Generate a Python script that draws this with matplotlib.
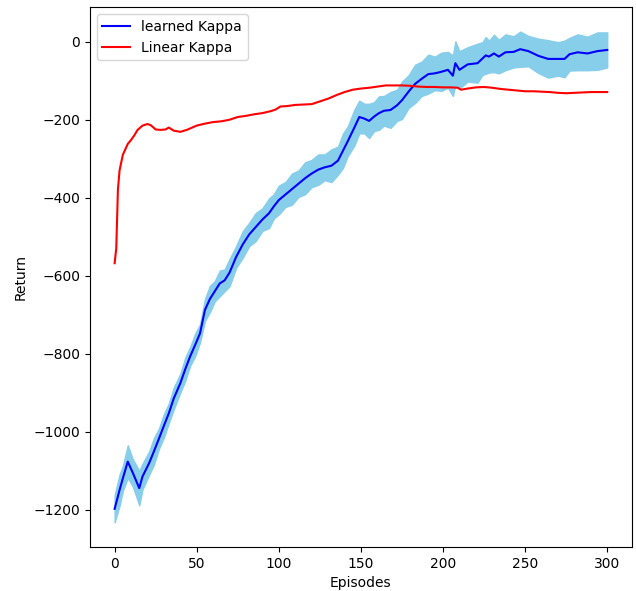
import matplotlib

matplotlib.use('Agg')
import matplotlib.pyplot as plt
import numpy as np

# Linear Kappa
lin_ep = [0, 1, 2, 3, 5, 8, 10, 12, 14, 17, 20, 22, 25, 28, 31, 33, 36, 40, 44, 50,
          55, 60, 65, 70, 75, 80, 85, 90, 95, 98, 101, 105, 110, 115, 120, 125, 130,
          135, 140, 145, 150, 155, 160, 165, 170, 175, 180, 185, 190, 195, 200, 205,
          209, 211, 215, 220, 225, 230, 235, 240, 245, 250, 255, 260, 265, 270, 275,
          280, 285, 290, 295, 300]
lin_ret = [-568, -530, -380, -330, -290, -262, -252, -240, -226, -215, -211, -214, -225,
           -226, -225, -220, -228, -231, -226, -215, -210, -206, -204, -200, -193, -190,
           -186, -183, -178, -174, -166, -165, -162, -161, -160, -153, -146, -137, -129,
           -123, -120, -118, -115, -112, -112, -112, -113, -115, -116, -116, -117, -117,
           -118, -123, -120, -117, -116, -118, -121, -123, -125, -127, -127, -128, -129,
           -131, -132, -131, -130, -129, -129, -129]

# learned Kappa: media e deviazione
lrn_ep = [0, 3, 5, 8, 11, 15, 17, 21, 24, 27, 30, 33, 36, 40, 43, 46, 49, 52, 55, 58,
          61, 64, 67, 70, 74, 78, 82, 86, 90, 94, 97, 100, 104, 108, 112, 116, 120, 124,
          128, 132, 136, 139, 142, 146, 149, 152, 155, 158, 161, 164, 168, 172, 175, 179,
          183, 187, 191, 195, 199, 203, 206, 207.5, 210, 215, 221, 224, 226, 228, 231,
          234, 238, 243, 247, 252, 258, 264, 270, 274, 277, 282, 288, 294, 300]
lrn_ret = [-1198, -1150, -1120, -1077, -1105, -1145, -1115, -1081, -1050, -1018, -985,
           -953, -915, -876, -840, -807, -778, -748, -688, -660, -640, -620, -612, -592,
           -552, -520, -494, -475, -456, -440, -422, -406, -392, -378, -364, -350, -338,
           -328, -322, -318, -305, -280, -255, -220, -193, -197, -203, -192, -183, -177,
           -175, -163, -150, -128, -108, -95, -83, -81, -77, -72, -87, -55, -72, -58,
           -55, -43, -35, -38, -30, -38, -27, -26, -19, -24, -36, -44, -44, -44, -32,
           -27, -30, -24, -21]
lrn_std = [35, 40, 32, 42, 35, 44, 33, 30, 34, 26, 30, 25, 28, 24, 30, 24, 29, 23, 28,
           34, 26, 33, 28, 35, 28, 34, 30, 36, 29, 38, 31, 37, 32, 40, 34, 41, 35, 39,
           33, 42, 36, 44, 38, 46, 42, 38, 44, 37, 43, 38, 46, 40, 48, 42, 49, 44, 50,
           43, 49, 46, 52, 56, 48, 44, 50, 42, 47, 41, 48, 43, 46, 40, 45, 39, 44, 48,
           43, 47, 42, 46, 43, 48, 45]

lrn_ret = np.array(lrn_ret)
lrn_std = np.array(lrn_std)

fig = plt.figure(figsize=(6.36, 5.91), dpi=100)
ax = fig.add_axes([0.1415, 0.0745, 0.852, 0.9135])

ax.fill_between(lrn_ep, lrn_ret - lrn_std, lrn_ret + lrn_std, color='skyblue')
ax.plot(lrn_ep, lrn_ret, color='b', label='learned Kappa')
ax.plot(lin_ep, lin_ret, color='r', label='Linear Kappa')

ax.set_xlabel('Episodes')
ax.set_ylabel('Return')
ax.legend(loc='upper left')

fig.savefig('out.png')
